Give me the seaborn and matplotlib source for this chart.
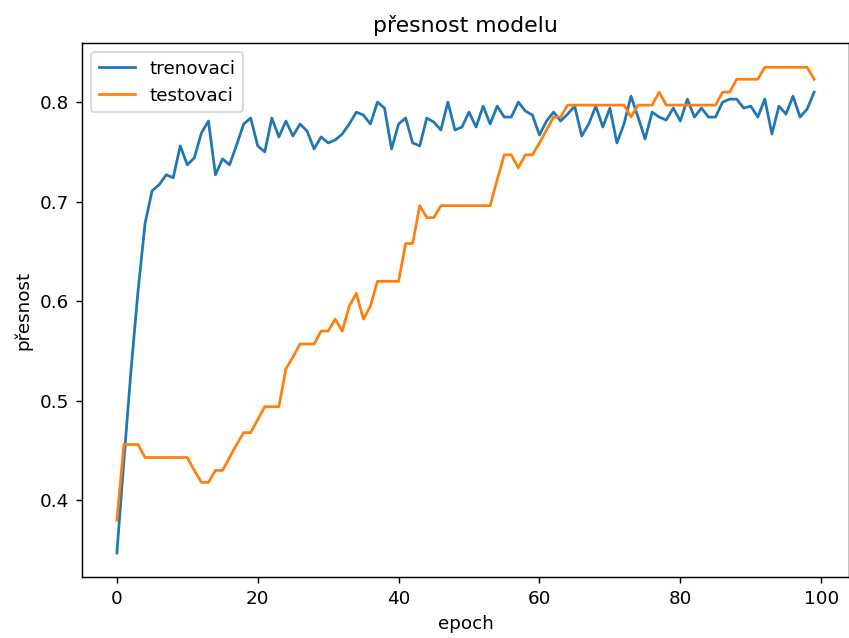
import matplotlib
matplotlib.use("Agg")
import matplotlib.pyplot as plt
import seaborn as sns

# ==============================
# Data
# ==============================
epochs = list(range(100))

trenovaci = [
    0.347, 0.440, 0.530, 0.610, 0.678, 0.711, 0.717, 0.727, 0.724, 0.756,
    0.737, 0.744, 0.769, 0.781, 0.727, 0.743, 0.737, 0.757, 0.778, 0.784,
    0.756, 0.750, 0.784, 0.765, 0.781, 0.766, 0.778, 0.771, 0.753, 0.765,
    0.759, 0.762, 0.768, 0.778, 0.790, 0.787, 0.778, 0.800, 0.794, 0.753,
    0.778, 0.784, 0.759, 0.756, 0.784, 0.780, 0.772, 0.800, 0.772, 0.775,
    0.790, 0.775, 0.796, 0.778, 0.796, 0.785, 0.785, 0.800, 0.791, 0.787,
    0.767, 0.781, 0.790, 0.781, 0.788, 0.796, 0.766, 0.778, 0.796, 0.775,
    0.794, 0.759, 0.778, 0.806, 0.785, 0.763, 0.790, 0.785, 0.782, 0.794,
    0.781, 0.803, 0.785, 0.794, 0.785, 0.785, 0.800, 0.803, 0.803, 0.794,
    0.796, 0.785, 0.803, 0.768, 0.796, 0.788, 0.806, 0.785, 0.793, 0.810,
]

testovaci = [
    0.380, 0.456, 0.456, 0.456, 0.443, 0.443, 0.443, 0.443, 0.443, 0.443,
    0.443, 0.430, 0.418, 0.418, 0.430, 0.430, 0.443, 0.456, 0.468, 0.468,
    0.481, 0.494, 0.494, 0.494, 0.532, 0.544, 0.557, 0.557, 0.557, 0.570,
    0.570, 0.582, 0.570, 0.595, 0.608, 0.582, 0.595, 0.620, 0.620, 0.620,
    0.620, 0.658, 0.658, 0.696, 0.684, 0.684, 0.696, 0.696, 0.696, 0.696,
    0.696, 0.696, 0.696, 0.696, 0.722, 0.747, 0.747, 0.734, 0.747, 0.747,
    0.759, 0.772, 0.785, 0.785, 0.797, 0.797, 0.797, 0.797, 0.797, 0.797,
    0.797, 0.797, 0.797, 0.785, 0.797, 0.797, 0.797, 0.810, 0.797, 0.797,
    0.797, 0.797, 0.797, 0.797, 0.797, 0.797, 0.810, 0.810, 0.823, 0.823,
    0.823, 0.823, 0.835, 0.835, 0.835, 0.835, 0.835, 0.835, 0.835, 0.823,
]

# ==============================
# Plot
# ==============================
fig = plt.figure(figsize=(849 / 132, 638 / 132), dpi=132)
ax = fig.add_axes([0.0966, 0.0951, 0.9034, 0.8375])

sns.lineplot(x=epochs, y=trenovaci, ax=ax, label="trenovaci", color="#1f77b4")
sns.lineplot(x=epochs, y=testovaci, ax=ax, label="testovaci", color="#ff7f0e")

ax.set_title("přesnost modelu")
ax.set_xlabel("epoch")
ax.set_ylabel("přesnost")
ax.legend(loc="upper left")

fig.savefig("out.png", dpi=132)
